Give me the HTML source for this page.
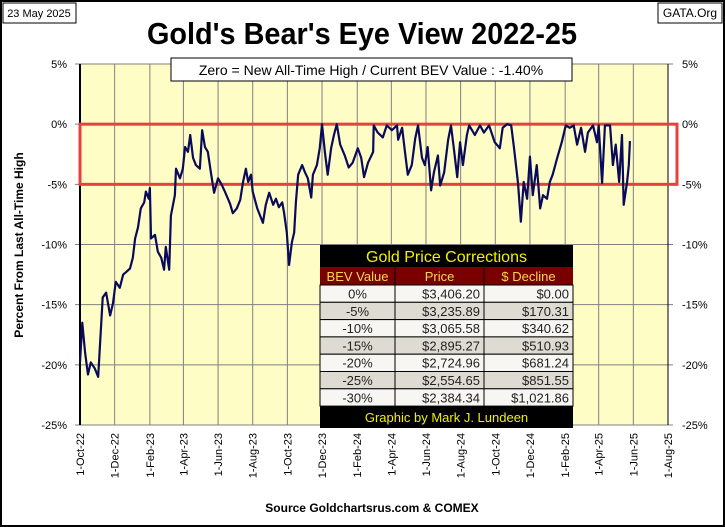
<!DOCTYPE html>
<html><head><meta charset="utf-8"><style>
body{margin:0;background:#fff;}
#wrap{position:relative;width:725px;height:527px;overflow:hidden;font-family:"Liberation Sans",sans-serif;}
svg text{font-family:"Liberation Sans",sans-serif;}
</style></head><body>
<div id="wrap">
<svg id="chart" width="725" height="527">
  <rect x="1" y="1" width="723" height="525" fill="#fff" stroke="#000" stroke-width="2"/>
  <rect x="3" y="3" width="73" height="20" fill="#fff" stroke="#000" stroke-width="1"/>
  <text x="39" y="17" font-size="11" text-anchor="middle">23 May 2025</text>
  <rect x="658" y="3" width="64" height="20" fill="#fff" stroke="#000" stroke-width="1"/>
  <text x="690" y="17" font-size="12" text-anchor="middle">GATA.Org</text>
  <text x="362" y="44" font-size="31" font-weight="bold" text-anchor="middle" textLength="430" lengthAdjust="spacingAndGlyphs">Gold's Bear's Eye View 2022-25</text>
  <g id="plot"></g>
  <rect x="171" y="58" width="401" height="23" fill="#fff" stroke="#000" stroke-width="1"/>
  <text x="371" y="75" font-size="14" text-anchor="middle">Zero = New All-Time High / Current  BEV Value : -1.40%</text>
  <text transform="translate(23,245) rotate(-90)" font-size="12" font-weight="bold" text-anchor="middle">Percent  From Last  All-Time High</text>
  <text x="372" y="512" font-size="12" font-weight="bold" text-anchor="middle">Source Goldchartsrus.com &amp; COMEX</text>
  <g id="table"></g>
</svg>
</div>
<script>
const days = [0,4,9,14,19,26,32,35,40,46,53,58,63,70,76,81,88,93,97,102,107,113,116,121,123,125,132,137,143,148,151,157,160,167,169,176,181,185,190,194,199,204,211,215,220,225,231,236,243,248,255,264,269,276,282,287,292,296,301,304,312,317,322,327,333,340,345,350,356,359,364,368,373,377,380,384,391,396,401,407,410,417,422,426,431,436,442,447,452,458,466,473,480,489,495,500,507,516,517,524,533,540,549,558,560,567,572,577,584,590,595,602,607,612,618,623,630,634,641,648,653,658,664,669,674,681,685,695,704,711,720,730,739,744,752,759,764,771,776,781,787,792,797,804,810,815,822,827,832,840,848,855,862,869,875,882,889,894,903,910,913,919,924,933,938,943,949,954,957,963,966,968];
const bev = [-19.8,-16.5,-19,-20.8,-19.8,-20.3,-21,-18.5,-14.4,-14,-15.9,-14.9,-13.1,-13.6,-12.5,-12.3,-12,-11.1,-9.5,-8.6,-7,-6.5,-5.6,-6.2,-5.3,-9.5,-9.2,-10.6,-11.1,-12.1,-10.2,-12.1,-7.6,-5.9,-3.7,-4.5,-3.7,-1.9,-2.3,-0.9,-2.8,-3.4,-3.7,-0.5,-1.9,-2.3,-4.2,-5.7,-4.5,-4.9,-5.6,-6.6,-7.4,-7,-6.3,-4.8,-3.7,-4.8,-4.2,-5.6,-7,-7.6,-8.2,-6.7,-5.7,-6.7,-6.2,-6.9,-6.5,-7.3,-9,-11.7,-9.8,-9,-6.5,-4.2,-3.4,-4,-4.5,-6.1,-4.2,-3.4,-2,0,-2.3,-4.2,-2,-0.9,0,-1.7,-2.6,-3.6,-3.2,-2,-2.8,-4.4,-3.2,-2.3,-0.1,-0.7,-1.1,-0.1,-0.5,-0.1,-1.3,-0.3,-2.3,-4.2,-3.4,-1.2,-0.1,-2.8,-3.4,-1.9,-5.5,-4,-2.6,-5.1,-4,-1.3,-0.1,-2,-4.4,-1.5,-3.4,-0.9,-0.1,-0.9,-0.1,-0.7,-0.1,-1.5,-2,-0.3,0,-0.1,-2,-4.9,-8.1,-4.8,-6.2,-2.7,-5.9,-3.4,-7,-5.9,-6.2,-4.8,-4.2,-2.8,-1.5,-0.1,-0.3,-0.1,-1.7,-0.3,-2.3,-0.7,-0.1,-1.5,-0.1,-4.9,-0.1,-0.1,-3.4,-1.7,-4.8,-0.9,-6.7,-4.8,-3.4,-1.4];
const yTicks = [5,0,-5,-10,-15,-20,-25];
const xTickLabels = ["1-Oct-22","1-Dec-22","1-Feb-23","1-Apr-23","1-Jun-23","1-Aug-23","1-Oct-23","1-Dec-23","1-Feb-24","1-Apr-24","1-Jun-24","1-Aug-24","1-Oct-24","1-Dec-24","1-Feb-25","1-Apr-25","1-Jun-25","1-Aug-25"];
const xTickDays = [0,61,123,182,243,304,365,426,488,548,609,670,731,792,854,913,974,1035];
const tblHead = ["BEV Value","Price","$ Decline"];
const tblBev = ["0%","-5%","-10%","-15%","-20%","-25%","-30%"];
const tblPrice = ["$3,406.20","$3,235.89","$3,065.58","$2,895.27","$2,724.96","$2,554.65","$2,384.34"];
const tblDecline = ["$0.00","$170.31","$340.62","$510.93","$681.24","$851.55","$1,021.86"];

const NS="http://www.w3.org/2000/svg";
const X0=80,X1=668,Y0=64,Y1=425,D1=1035,VMAX=5,VMIN=-25;
const xs=d=>X0+(d/D1)*(X1-X0);
const ys=v=>Y0+(VMAX-v)/(VMAX-VMIN)*(Y1-Y0);
function mk(parent,tag,attrs){const e=document.createElementNS(NS,tag);for(const k in attrs)e.setAttribute(k,attrs[k]);parent.appendChild(e);return e;}
const plot=document.getElementById('plot');
const bg=mk(plot,'rect',{x:X0,y:Y0,width:X1-X0,height:Y1-Y0,fill:'#fefdc6'});


xTickDays.forEach((d,i)=>{
  const l=mk(plot,'line',{x1:xs(d),x2:xs(d),y1:Y0,y2:Y1,stroke:'#808080','stroke-width':1});
  
  
  const t=mk(plot,'text',{transform:`translate(${xs(d)+4},${Y1+8}) rotate(-90)`,'font-size':11,'text-anchor':'end'});
  t.textContent=xTickLabels[i];
  
  
});
yTicks.forEach(v=>{
  const l=mk(plot,'line',{x1:X0-5,x2:X1+5,y1:ys(v),y2:ys(v),stroke:'#808080','stroke-width':1});
  
  
  const t=mk(plot,'text',{x:X0-13,y:ys(v)+4,'font-size':11,'text-anchor':'end'});
  t.textContent=v+'%';
  
  
  const t2=mk(plot,'text',{x:X1+14,y:ys(v)+4,'font-size':11});
  t2.textContent=v+'%';
  
  
});
const ax=mk(plot,'line',{x1:X0,x2:X0,y1:Y0,y2:Y1,stroke:'#000','stroke-width':2});


const ax2=mk(plot,'line',{x1:X1,x2:X1,y1:Y0,y2:Y1,stroke:'#000','stroke-width':1});


const band=mk(plot,'rect',{x:X0,y:ys(0),width:677-X0,height:ys(-5)-ys(0),fill:'none',stroke:'#e8403c','stroke-width':3});


const line=mk(plot,'polyline',{points:days.map((d,i)=>xs(d)+','+ys(bev[i])).join(' '),fill:'none',stroke:'#0a0a5a','stroke-width':2.2,'stroke-linejoin':'round'});



const tb=document.getElementById('table');
const TX=320,TW=253,cols=[320,395,484,573];
const tt=mk(tb,'rect',{x:TX,y:245,width:TW,height:22,fill:'#000'});


const ttt=mk(tb,'text',{x:TX+TW/2,y:262,'font-size':16,fill:'#f0f000','text-anchor':'middle'});
ttt.textContent='Gold Price Corrections';


const hr=mk(tb,'rect',{x:TX,y:267,width:TW,height:18,fill:'#7a0000'});


tblHead.forEach((h,i)=>{
  const t=mk(tb,'text',{x:(cols[i]+cols[i+1])/2,y:281,'font-size':13,fill:'#f8d84a','text-anchor':'middle'});
  t.textContent=h;
  
  
});
const RH=17.3;
tblBev.forEach((b,i)=>{
  const y=285+i*RH;
  const r=mk(tb,'rect',{x:TX,y:y,width:TW,height:RH,fill:i%2?'#dedbd3':'#f7f6f3',stroke:'#000','stroke-width':1});
  
  
  const vals=[b,tblPrice[i],tblDecline[i]];
  vals.forEach((v,j)=>{
    const t=mk(tb,'text',{x:j==0?(cols[0]+cols[1])/2:cols[j+1]-4,y:y+13.5,'font-size':13,fill:'#222','text-anchor':j==0?'middle':'end'});
    t.textContent=v;
    
    
  });
});
[cols[1],cols[2]].forEach(cx=>{
  const l=mk(tb,'line',{x1:cx,x2:cx,y1:267,y2:285+7*RH,stroke:'#000','stroke-width':1});
  
  
});
const fy=285+7*RH;
const fr=mk(tb,'rect',{x:TX,y:fy,width:TW,height:428-fy,fill:'#000'});


const ft=mk(tb,'text',{x:TX+TW/2,y:fy+16,'font-size':13,fill:'#f0f000','text-anchor':'middle'});
ft.textContent='Graphic by Mark J. Lundeen';


</script>
</body></html>
